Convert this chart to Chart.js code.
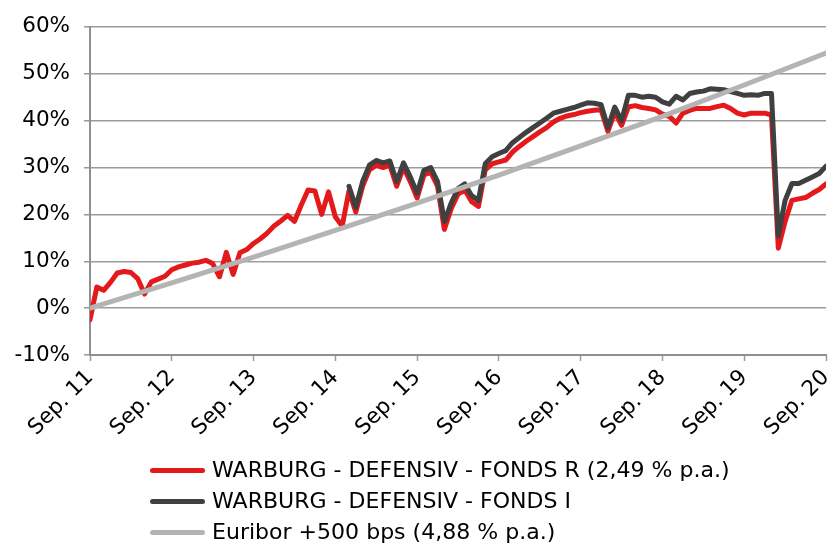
<!DOCTYPE html>
<html lang="de">
<head>
    <meta charset="UTF-8">
    <title>Warburg Defensiv</title>
    <script src="https://cdn.jsdelivr.net/npm/chart.js"></script>
    <style>
        body { margin: 0; background: #fff; }
        #wrap { position: relative; width: 829px; height: 547px; }
        #legend { position: absolute; left: 150px; top: 455px; font-family: "DejaVu Sans", sans-serif; font-size: 20.5px; color: #000; }
        .row { display: flex; align-items: center; height: 31px; white-space: nowrap; }
        .swatch { width: 55px; height: 5px; border-radius: 3px; margin-right: 7px; }
        .txt { display: inline-block; transform: scaleX(1.075); transform-origin: left center; line-height: 31px; }
    </style>
</head>
<body>
<div id="wrap">
    <canvas id="perfChart" width="829" height="547"></canvas>
    <div id="legend"></div>
</div>

<script>
    // x axis: months since Sep. 2011
    const xTickLabels = ['Sep. 11', 'Sep. 12', 'Sep. 13', 'Sep. 14', 'Sep. 15',
        'Sep. 16', 'Sep. 17', 'Sep. 18', 'Sep. 19', 'Sep. 20'];

    const seriesNames = [
        'WARBURG - DEFENSIV - FONDS R (2,49 % p.a.)',
        'WARBURG - DEFENSIV - FONDS I',
        'Euribor +500 bps (4,88 % p.a.)'
    ];

    // monthly values in %, month 0 = Sep. 2011
    const fundR = [
        -2.5, 4.5, 3.8, 5.5, 7.5, 7.8, 7.6, 6.3, 3.0, 5.6,
        6.2, 6.8, 8.2, 8.8, 9.2, 9.6, 9.8, 10.2, 9.5, 6.7,
        11.9, 7.2, 11.8, 12.5, 13.8, 14.8, 16.0, 17.5, 18.6, 19.8,
        18.5, 22.0, 25.2, 25.0, 20.0, 24.8, 19.5, 17.5, 25.0, 20.5,
        26.0, 29.5, 30.5, 30.0, 30.5, 26.0, 30.0, 27.0, 23.5, 28.4,
        29.0, 26.0, 16.8, 21.2, 24.3, 25.2, 22.7, 21.7, 29.5, 30.8,
        31.2, 31.6, 33.3, 34.5, 35.6, 36.6, 37.6, 38.5, 39.7, 40.5,
        41.0, 41.3, 41.7, 42.0, 42.2, 42.3, 37.7, 41.8, 39.0, 42.9,
        43.2, 42.8, 42.6, 42.3, 41.4, 40.9, 39.5, 41.6, 42.2, 42.6,
        42.6, 42.6, 43.0, 43.3, 42.6, 41.6, 41.2, 41.6, 41.6, 41.6,
        41.2, 12.8, 18.5, 23.0, 23.3, 23.6, 24.5, 25.3, 26.5
    ];

    const fundI = [
        null, null, null, null, null, null, null, null, null, null,
        null, null, null, null, null, null, null, null, null, null,
        null, null, null, null, null, null, null, null, null, null,
        null, null, null, null, null, null, null, null, 26.0, 21.5,
        27.0, 30.5, 31.5, 31.0, 31.4, 27.0, 31.0, 28.0, 24.5, 29.4,
        30.0, 27.0, 18.5, 22.4, 25.5, 26.5, 24.0, 23.0, 30.8, 32.3,
        33.0, 33.6, 35.3, 36.4, 37.5, 38.5, 39.5, 40.5, 41.6, 42.0,
        42.4, 42.8, 43.3, 43.8, 43.7, 43.4, 38.5, 42.9, 40.0, 45.4,
        45.4, 45.0, 45.2, 45.0, 44.0, 43.5, 45.2, 44.4, 45.8, 46.1,
        46.3, 46.8, 46.7, 46.6, 46.2, 45.8, 45.4, 45.5, 45.4, 45.8,
        45.8, 15.4, 23.0, 26.6, 26.6, 27.3, 28.0, 28.7, 30.3
    ];

    const euriborMonths = [0, 12, 24, 36, 48, 60, 72, 84, 96, 108];
    const euribor = [0, 5.4, 10.9, 16.6, 22.4, 28.4, 34.6, 40.9, 47.6, 54.4];

    const colors = ['#e3191b', '#404040', '#b4b4b4'];

    const toPoints = (arr) => arr.map((v, i) => ({x: i, y: v}));

    const ctx = document.getElementById('perfChart').getContext('2d');
    Chart.defaults.font.family = '"DejaVu Sans", sans-serif';
    Chart.defaults.color = '#000';

    const lineStyle = {
        borderWidth: 5,
        pointRadius: 0,
        tension: 0,
        fill: false,
        borderJoinStyle: 'round',
        borderCapStyle: 'round'
    };

    const chart = new Chart(ctx, {
        type: 'line',
        data: {
            datasets: [{
                label: seriesNames[0],
                data: toPoints(fundR),
                borderColor: colors[0],
                order: 2,
                ...lineStyle
            }, {
                label: seriesNames[1],
                data: toPoints(fundI),
                borderColor: colors[1],
                order: 1,
                ...lineStyle
            }, {
                label: seriesNames[2],
                data: euriborMonths.map((m, i) => ({x: m, y: euribor[i]})),
                borderColor: colors[2],
                order: 0,
                ...lineStyle
            }]
        },
        options: {
            responsive: false,
            animation: false,
            devicePixelRatio: 1,
            layout: {padding: {top: 15, right: 3, left: 0, bottom: 0}},
            plugins: {
                legend: {display: false},
                tooltip: {enabled: false}
            },
            scales: {
                x: {
                    type: 'linear',
                    min: 0,
                    max: 108,
                    afterFit: (scale) => {
                        scale.height = 192;
                        scale.paddingLeft = 0;
                        scale.paddingRight = 0;
                    },
                    afterBuildTicks: (scale) => {
                        scale.ticks = xTickLabels.map((_, i) => ({value: i * 12}));
                    },
                    ticks: {
                        callback: (v) => xTickLabels[v / 12],
                        minRotation: 45,
                        maxRotation: 45,
                        autoSkip: false,
                        padding: 4,
                        font: {size: 21.5}
                    },
                    grid: {
                        drawOnChartArea: false,
                        drawTicks: true,
                        tickLength: 6,
                        tickColor: '#999',
                        tickWidth: 1.5
                    },
                    border: {color: '#8f8f8f', width: 2}
                },
                y: {
                    min: -10,
                    max: 60,
                    afterFit: (scale) => { scale.width = 90; },
                    ticks: {
                        stepSize: 10,
                        callback: (v) => v + '%',
                        padding: 14,
                        font: {size: 21.5}
                    },
                    grid: {
                        color: '#9b9b9b',
                        lineWidth: 1.5,
                        tickLength: 6,
                        tickColor: '#999'
                    },
                    border: {color: '#8f8f8f', width: 2}
                }
            }
        }
    });

    // legend below the plot, left aligned like the original
    const legend = document.getElementById('legend');
    seriesNames.forEach((name, i) => {
        const row = document.createElement('div');
        row.className = 'row';
        const sw = document.createElement('span');
        sw.className = 'swatch';
        sw.style.background = colors[i];
        const txt = document.createElement('span');
        txt.className = 'txt';
        txt.textContent = name;
        row.appendChild(sw);
        row.appendChild(txt);
        legend.appendChild(row);
    });
</script>
</body>
</html>
